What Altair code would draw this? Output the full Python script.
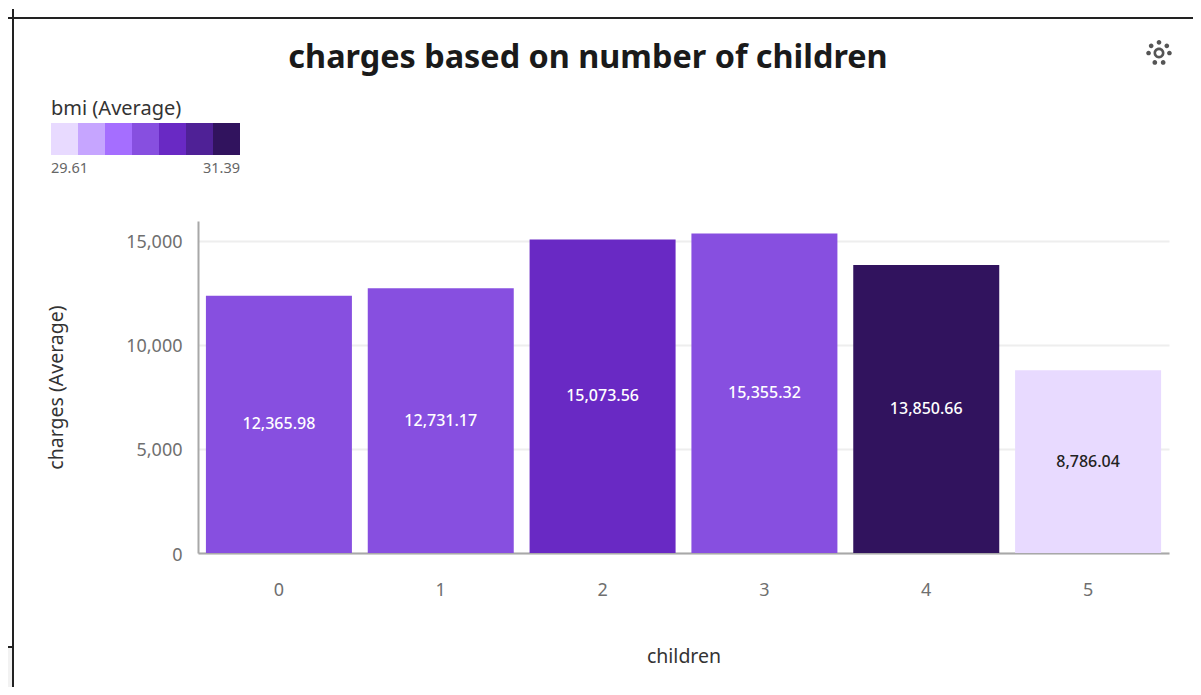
import altair as alt
import pandas as pd

children = ["0", "1", "2", "3", "4", "5"]
charges = [12365.98, 12731.17, 15073.56, 15355.32, 13850.66, 8786.04]
bmi = [30.5, 30.55, 30.8, 30.58, 31.39, 29.61]
palette = ["#e8daff", "#c6a5ff", "#a56eff", "#874fe0", "#6929c4", "#4f2196", "#31135e"]

FONT = "Noto Sans"
OX, OY = 198, 221  # plot origin in picture pixels
PAD_L, PAD_T = OX - 8, OY - 8

df = pd.DataFrame({"children": children, "charges": charges, "bmi": bmi})
df["label"] = [f"{v:,.2f}" for v in charges]
df["mid"] = df["charges"] / 2

color = alt.Color(
    "bmi:Q",
    scale=alt.Scale(type="quantize", domain=[29.61, 31.39], range=palette, nice=False),
    legend=alt.Legend(
        type="gradient",
        title="bmi (Average)", orient="none", legendX=51 - OX, legendY=99 - OY,
        titleFont=FONT, titleFontSize=20, titleFontWeight="normal", titleColor="#333333",
        titlePadding=4, gradientLength=189, gradientThickness=32, direction="horizontal",
        labelExpr="''", labelOpacity=0, gradientStrokeWidth=0,
    ),
)

bars = alt.Chart(df).mark_bar(size=146).encode(
    x=alt.X("children:N", sort=children, title="children",
            scale=alt.Scale(paddingInner=0.1, paddingOuter=0.05),
            axis=alt.Axis(labelAngle=0, labelFont=FONT, labelFontSize=18, labelColor="#6f6f6f",
                          titleFont=FONT, titleFontSize=19.5, titleFontWeight="normal", titleColor="#333333",
                          ticks=False, labelPadding=28, titlePadding=48, domainColor="#a8a8a8",
                          domainWidth=2, grid=False)),
    y=alt.Y("charges:Q", title="charges (Average)",
            scale=alt.Scale(domain=[0, 15960], nice=False),
            axis=alt.Axis(values=[0, 5000, 10000, 15000], format=",.0f", labelFont=FONT, labelFontSize=18,
                          labelOffset=2,
                          labelColor="#6f6f6f", titleFont=FONT, titleFontSize=19.5, titleFontWeight="normal",
                          titleColor="#333333", ticks=False, labelPadding=16, titlePadding=59,
                          domainColor="#a8a8a8", domainWidth=2, gridColor="#eeeeee", gridWidth=2)),
    color=color,
)

labels = alt.Chart(df).mark_text(font=FONT, fontSize=16, fontWeight=500).encode(
    x=alt.X("children:N", sort=children),
    y=alt.Y("mid:Q"),
    text="label:N",
    color=alt.condition(alt.datum.bmi < 30, alt.value("#222222"), alt.value("#ffffff")),
)

title = alt.Chart(df.head(1)).mark_text(font=FONT, fontSize=32.4, fontWeight="bold", color="#1a1a1a").encode(
    x=alt.value(588 - OX), y=alt.value(58 - OY), text=alt.value("charges based on number of children"))

def legend_end(text, x, align):
    return alt.Chart(df.head(1)).mark_text(font=FONT, fontSize=14.5, color="#666666", align=align).encode(
        x=alt.value(x - OX), y=alt.value(169 - OY), text=alt.value(text))

legend_labels = [legend_end(f"{min(bmi):.2f}", 51, "left"), legend_end(f"{max(bmi):.2f}", 240, "right")]

def rule(x1, y1, x2, y2, c="#222222", w=2):
    return alt.Chart(df.head(1)).mark_rule(color=c, strokeWidth=w, clip=False).encode(
        x=alt.value(x1 - OX), x2=alt.value(x2 - OX), y=alt.value(y1 - OY), y2=alt.value(y2 - OY))

patch = rule(7, 671, 13, 671, c="#f2f2f2", w=48)
frame = [patch, rule(7, 18, 1201, 18), rule(13, 9, 13, 695), rule(7, 647, 13, 647)]

gear_path = (
    "M-0.42,0a.42,.42 0 1,0 .84,0a.42,.42 0 1,0 -.84,0z "
    "M-0.22,0a.22,.22 0 1,1 .44,0a.22,.22 0 1,1 -.44,0z "
    "M-.18,-.82a.18,.18 0 1,0 .36,0a.18,.18 0 1,0 -.36,0z "
    "M-.78,-.55a.18,.18 0 1,0 .36,0a.18,.18 0 1,0 -.36,0z "
    "M.42,-.55a.18,.18 0 1,0 .36,0a.18,.18 0 1,0 -.36,0z "
    "M-.98,0a.18,.18 0 1,0 .36,0a.18,.18 0 1,0 -.36,0z "
    "M.62,0a.18,.18 0 1,0 .36,0a.18,.18 0 1,0 -.36,0z "
    "M-.5,.72a.18,.18 0 1,0 .36,0a.18,.18 0 1,0 -.36,0z "
    "M.14,.72a.18,.18 0 1,0 .36,0a.18,.18 0 1,0 -.36,0z"
)
gear = alt.Chart(df.head(1)).mark_point(shape=gear_path, filled=True, color="#555555", opacity=1, size=680).encode(
    x=alt.value(1159 - OX), y=alt.value(53 - OY))

chart = alt.layer(bars, labels, title, gear, *legend_labels, *frame).resolve_scale(color="independent").properties(
    width=971, height=332,
    autosize=alt.AutoSizeParams(type="none"),
    padding={"left": PAD_L, "top": PAD_T, "right": 24, "bottom": 134},
    background="#ffffff",
).configure_view(stroke=None)

chart.save("out.html", embed_options={"renderer": "svg", "actions": False})
